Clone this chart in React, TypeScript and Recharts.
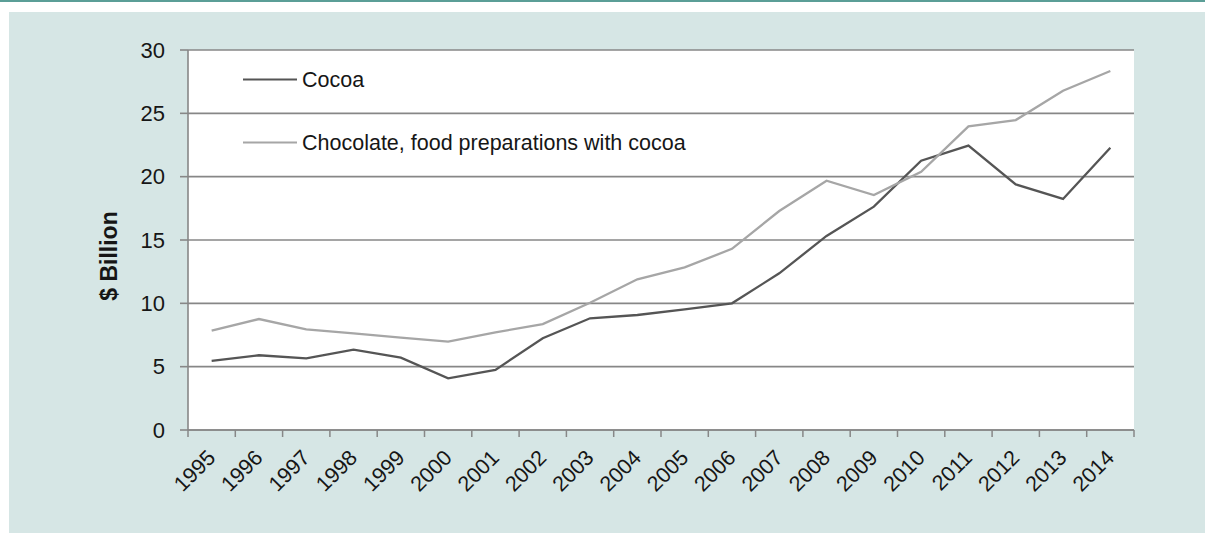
import React from "react";
import { LineChart, Line, XAxis, YAxis, CartesianGrid, Legend } from "recharts";

const YEARS = [
  "1995", "1996", "1997", "1998", "1999", "2000", "2001", "2002", "2003", "2004",
  "2005", "2006", "2007", "2008", "2009", "2010", "2011", "2012", "2013", "2014",
];
const COCOA = [
  5.45, 5.9, 5.66, 6.34, 5.71, 4.08, 4.75, 7.24, 8.82, 9.08,
  9.53, 10.0, 12.37, 15.32, 17.63, 21.26, 22.45, 19.39, 18.24, 22.29,
];
const CHOCOLATE = [
  7.84, 8.76, 7.95, 7.63, 7.29, 6.97, 7.71, 8.36, 10.05, 11.9,
  12.84, 14.3, 17.29, 19.68, 18.55, 20.39, 23.97, 24.47, 26.79, 28.34,
];
const SERIES_NAMES = ["Cocoa", "Chocolate, food preparations with cocoa"];
const Y_TICKS = [0, 5, 10, 15, 20, 25, 30];

const data = YEARS.map((year, i) => ({
  year,
  cocoa: COCOA[i],
  chocolate: CHOCOLATE[i],
}));

const W = 1205;
const H = 533;
const LEFT = 188;
const RIGHT = 71;
const TOP = 50;
const BOTTOM = 103;
const BAND = (W - LEFT - RIGHT) / YEARS.length;

const FONT = "'Liberation Sans', Arial, Helvetica, sans-serif";
const AXIS_GREY = "#878787";
const TEXT = "#161616";

const XTick = (props: any) => {
  const { x, y, payload, index } = props;
  const half = BAND / 2;
  const tx = x + 5;
  const ty = y + 29;
  return (
    <g>
      <line x1={x - half} y1={y} x2={x - half} y2={y + 7} stroke={AXIS_GREY} strokeWidth={1.5} />
      {index === YEARS.length - 1 && (
        <line x1={x + half} y1={y} x2={x + half} y2={y + 7} stroke={AXIS_GREY} strokeWidth={1.5} />
      )}
      <text
        x={tx}
        y={ty}
        transform={`rotate(-45 ${tx} ${ty})`}
        textAnchor="end"
        fontFamily={FONT}
        fontSize={21.5}
        fill={TEXT}
      >
        {payload.value}
      </text>
    </g>
  );
};

const renderLegend = ({ payload }: any) => {
  const items = [...(payload || [])].sort(
    (a: any, b: any) => SERIES_NAMES.indexOf(a.value) - SERIES_NAMES.indexOf(b.value)
  );
  return (
    <svg width={520} height={110}>
      {items.map((entry: any, i: number) => {
        const cy = 19.5 + i * 63;
        return (
          <g key={entry.value}>
            <line x1={3} y1={cy} x2={57} y2={cy} stroke={entry.color} strokeWidth={2.2} />
            <text x={62} y={cy + 7.8} fontFamily={FONT} fontSize={21.5} fill={TEXT}>
              {entry.value}
            </text>
          </g>
        );
      })}
    </svg>
  );
};

const yLabel = ({ viewBox }: any) => {
  const cx = 109;
  const cy = (viewBox?.y ?? TOP) + (viewBox?.height ?? 380) / 2 + 16;
  return (
    <text
      x={cx}
      y={cy}
      transform={`rotate(-90 ${cx} ${cy})`}
      textAnchor="middle"
      dominantBaseline="central"
      fontFamily={FONT}
      fontWeight="bold"
      fontSize={23}
      fill={TEXT}
    >
      $ Billion
    </text>
  );
};

export default function App() {
  return (
    <div style={{ position: "absolute", left: 0, top: 0, width: W, height: H, background: "#fff", overflow: "hidden" }}>
      <div style={{ position: "absolute", left: 0, top: 0, width: W, height: 2, background: "#5b9e97" }} />
      <div style={{ position: "absolute", left: 9, top: 12, right: 0, bottom: 0, background: "#d6e6e5" }} />
      <div style={{ position: "absolute", left: 0, top: 0 }}>
        <LineChart
          width={W}
          height={H}
          data={data}
          margin={{ top: TOP, right: RIGHT, bottom: BOTTOM - 60, left: 0 }}
        >
          <CartesianGrid vertical={false} stroke={AXIS_GREY} strokeWidth={1.6} fill="#ffffff" fillOpacity={1} />
          <XAxis
            dataKey="year"
            scale="band"
            interval={0}
            height={60}
            tickSize={0}
            tickMargin={0}
            tickLine={false}
            axisLine={{ stroke: AXIS_GREY, strokeWidth: 1.6 }}
            tick={<XTick />}
          />
          <YAxis
            width={LEFT}
            domain={[0, 30]}
            ticks={Y_TICKS}
            interval={0}
            tickSize={8}
            tickMargin={15}
            axisLine={{ stroke: AXIS_GREY, strokeWidth: 1.6 }}
            tickLine={{ stroke: AXIS_GREY, strokeWidth: 1.6 }}
            tick={{ fontFamily: FONT, fontSize: 22, fill: TEXT }}
            label={yLabel}
          />
          <Legend
            layout="horizontal"
            verticalAlign="middle"
            align="center"
            content={renderLegend}
            wrapperStyle={{ position: "absolute", top: 60, left: 240, width: 520, height: 110 }}
          />
          <Line
            type="linear"
            dataKey="cocoa"
            name={SERIES_NAMES[0]}
            stroke="#555555"
            strokeWidth={2.3}
            dot={false}
            activeDot={false}
            isAnimationActive={false}
          />
          <Line
            type="linear"
            dataKey="chocolate"
            name={SERIES_NAMES[1]}
            stroke="#a6a6a6"
            strokeWidth={2.3}
            dot={false}
            activeDot={false}
            isAnimationActive={false}
          />
        </LineChart>
      </div>
    </div>
  );
}
